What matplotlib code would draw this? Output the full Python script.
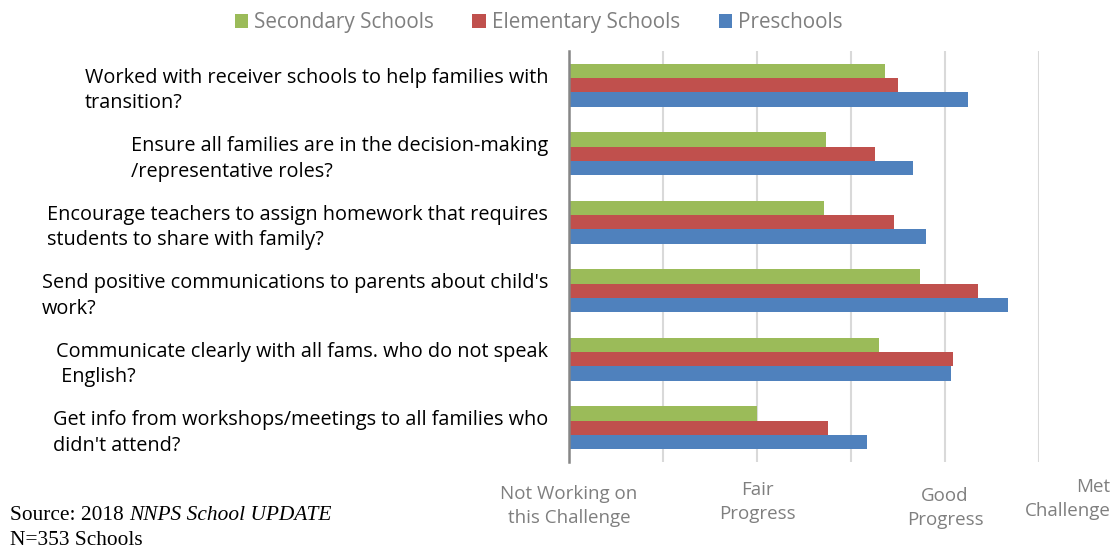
import numpy as np
import matplotlib
matplotlib.use('Agg')
import matplotlib.pyplot as plt

# survey items, top to bottom
questions = [
    "Worked with receiver schools to help families with\ntransition?",
    "Ensure all families are in the decision-making\n/representative roles?",
    "Encourage teachers to assign homework that requires\nstudents to share with family?",
    "Send positive communications to parents about child's\nwork?",
    "Communicate clearly with all fams. who do not speak\n English?",
    "Get info from workshops/meetings to all families who\ndidn't attend?",
]

secondary = [3.36, 2.73, 2.71, 3.73, 3.30, 2.00]
elementary = [3.50, 3.25, 3.46, 4.35, 4.08, 2.76]
preschool = [4.24, 3.66, 3.80, 4.67, 4.06, 3.17]

series_names = ['Secondary Schools', 'Elementary Schools', 'Preschools']
colors = ['#9BBB59', '#C0504D', '#4F81BD']

scale_pos = [0, 2, 4, 5.76]
scale_labels = ['Not Working on\nthis Challenge', 'Fair\nProgress', 'Good\nProgress', 'Met\nChallenge']
scale_drop = [-0.056, -0.046, -0.061, -0.039]

plt.rcParams['font.family'] = ['Open Sans', 'DejaVu Sans']

fig = plt.figure(figsize=(11.2, 5.48), dpi=100)
ax = fig.add_axes([569/1120, 1-462/548, (1039-569)/1120, (462-51)/548])

y = np.arange(len(questions))
h = 0.208
for i, (vals, name, c) in enumerate(zip([secondary, elementary, preschool], series_names, colors)):
    ax.barh(y + (i-1)*h, vals, height=h, color=c, label=name, zorder=3)

ax.set_xlim(0, 5)
ax.set_ylim(len(questions)-0.5, -0.5)
ax.set_xticks(np.arange(0, 6))
ax.set_xticklabels([])
ax.tick_params(length=0)
ax.grid(axis='x', color='#d9d9d9', linewidth=1.5, zorder=0)
for s in ['top', 'right', 'bottom']:
    ax.spines[s].set_visible(False)
ax.spines['left'].set_color('#868686')
ax.spines['left'].set_linewidth(1.8)
ax.spines['left'].set_zorder(4)

ax.set_yticks(y)
ax.set_yticklabels(questions, fontsize=14.3, color='black', multialignment='left',
                   linespacing=1.38)
ax.tick_params(axis='y', pad=15)

# progress scale below the axis
for p, lab, dy in zip(scale_pos, scale_labels, scale_drop):
    ha = 'right' if p > 5 else 'center'
    ax.text(p, dy, lab, transform=ax.get_xaxis_transform(),
            ha=ha, va='top', fontsize=13.5, color='#7f7f7f', linespacing=1.4,
            multialignment='center' if ha == 'center' else 'right', clip_on=False)

leg = fig.legend(loc='upper center', bbox_to_anchor=(0.481, 1.012), ncol=3, frameon=False,
                 fontsize=14.9, handlelength=0.65, handleheight=0.65, handletextpad=0.3,
                 columnspacing=1.85)
for t in leg.get_texts():
    t.set_color('#7f7f7f')

# source note
src = fig.text(10/1120, 1-520/548, 'Source: 2018 ', family='Liberation Serif', fontsize=15.4)
fig.canvas.draw()
bb = src.get_window_extent()
fig.text(bb.x1/1120, 1-520/548, 'NNPS School UPDATE', family='Liberation Serif',
         fontsize=15.4, style='italic')
fig.text(10/1120, 1-545/548, 'N=353 Schools', family='Liberation Serif', fontsize=15.4)

fig.savefig('out.png', dpi=100)
